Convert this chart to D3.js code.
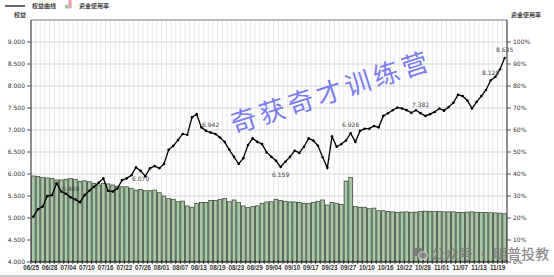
<!DOCTYPE html>
<html>
<head>
<meta charset="utf-8">
<script src="https://cdn.jsdelivr.net/npm/d3@7"></script>
<style>
  html, body { margin: 0; background: #fff; overflow: hidden; }
  svg { display: block; font-family: "DejaVu Sans", Verdana, sans-serif; }
</style>
</head>
<body>
<div id="chart"></div>
<script>
// Label sumbu x (tiap 4 bar)
const tickDates = ["06/25", "06/28", "07/04", "07/10", "07/16", "07/22", "07/26",
  "08/01", "08/07", "08/13", "08/19", "08/23", "08/29", "09/04", "09/10", "09/17",
  "09/23", "09/27", "10/10", "10/16", "10/22", "10/28", "11/01", "11/07", "11/13", "11/19"];

// 权益曲线
const equity = [
  5.03, 5.20, 5.26, 5.50, 5.52, 5.79, 5.60, 5.55, 5.469, 5.42,
  5.36, 5.52, 5.62, 5.71, 5.80, 5.90, 5.62, 5.60, 5.67, 5.86,
  5.90, 5.97, 6.15, 6.070, 5.95, 6.13, 6.18, 6.13, 6.23, 6.55,
  6.64, 6.77, 6.91, 6.89, 7.29, 7.36, 7.06, 6.98, 6.942, 6.91,
  6.83, 6.73, 6.55, 6.39, 6.23, 6.36, 6.66, 6.81, 6.73, 6.68,
  6.49, 6.39, 6.30, 6.159, 6.28, 6.39, 6.53, 6.48, 6.62, 6.81,
  6.76, 6.64, 6.38, 6.14, 6.85, 6.62, 6.68, 6.76, 6.926, 6.73,
  6.98, 7.03, 7.03, 7.09, 7.06, 7.32, 7.38, 7.45, 7.51, 7.49,
  7.45, 7.39, 7.45, 7.382, 7.32, 7.36, 7.41, 7.49, 7.44, 7.52,
  7.62, 7.80, 7.77, 7.67, 7.49, 7.64, 7.77, 7.91, 8.125, 8.21,
  8.38, 8.635
];

// 资金使用率 (%)
const usage = [
  39.1, 38.8, 38.5, 38.2, 37.9, 37.3, 37.3, 37.6, 37.9, 37.6,
  36.7, 36.9, 36.5, 35.8, 35.0, 35.8, 35.5, 35.0, 34.5, 34.2,
  34.2, 33.5, 32.7, 33.0, 32.4, 32.4, 32.7, 31.5, 30.0, 28.9,
  28.5, 27.4, 27.7, 25.5, 24.9, 26.7, 27.1, 27.1, 27.9, 27.9,
  28.5, 28.9, 27.4, 28.2, 27.0, 25.5, 24.7, 25.2, 25.5, 26.7,
  27.3, 27.4, 28.5, 27.9, 27.6, 27.3, 27.3, 27.1, 26.7, 26.7,
  27.1, 27.6, 28.2, 25.9, 27.1, 26.7, 26.2, 36.8, 38.5, 25.2,
  24.9, 24.9, 24.2, 24.5, 23.3, 23.3, 23.0, 22.8, 22.6, 22.7,
  22.8, 22.6, 22.7, 22.9, 23.1, 22.9, 22.9, 22.9, 22.8, 22.8,
  22.8, 22.6, 22.6, 22.7, 22.8, 22.6, 22.5, 22.5, 22.4, 22.3,
  22.2, 21.9
];

// Titik yang diberi label nilai
const noteIndex = [8, 23, 38, 53, 68, 83, 98, 101];
const notePos = ["above", "below", "above", "below", "above", "above", "above", "above"];

const leftTicks = [4, 4.5, 5, 5.5, 6, 6.5, 7, 7.5, 8, 8.5, 9];
const rightTicks = [0, 0.1, 0.2, 0.3, 0.4, 0.5, 0.6, 0.7, 0.8, 0.9, 1];

const width = 554;
const height = 277;
const margin = { top: 20, right: 47, bottom: 15, left: 31 };
const innerWidth = width - margin.left - margin.right;
const innerHeight = height - margin.top - margin.bottom;

const svg = d3.select("#chart").append("svg")
  .attr("width", width)
  .attr("height", height);

const chart = svg.append("g")
  .attr("transform", `translate(${margin.left}, ${margin.top})`);

// Scales
const idx = d3.range(equity.length);
const x = d3.scaleBand().domain(idx).range([0, innerWidth]).paddingInner(0.2).paddingOuter(0.1);
const step = x.step();
const yL = d3.scaleLinear().domain([4, 9.5]).range([innerHeight, 0]);
const yR = d3.scaleLinear().domain([0, 1.1]).range([innerHeight, 0]);

// Grid
chart.append("g").selectAll("line")
  .data(d3.range(equity.length + 1))
  .enter().append("line")
  .attr("x1", (d) => d * step).attr("x2", (d) => d * step)
  .attr("y1", 0).attr("y2", innerHeight)
  .attr("stroke", "#dcdcdc").attr("stroke-width", 0.6);

chart.append("g").selectAll("line")
  .data(leftTicks)
  .enter().append("line")
  .attr("x1", 0).attr("x2", innerWidth)
  .attr("y1", (d) => yL(d)).attr("y2", (d) => yL(d))
  .attr("stroke", "#cfcfcf").attr("stroke-width", 0.8);

// Bars
chart.append("g").selectAll("rect")
  .data(usage)
  .enter().append("rect")
  .attr("x", (d, i) => x(i))
  .attr("y", (d) => yR(d / 100))
  .attr("width", x.bandwidth())
  .attr("height", (d) => innerHeight - yR(d / 100))
  .attr("fill", "#a7c8a2")
  .attr("stroke", "#2d3b2d")
  .attr("stroke-width", 0.7);

// Frame
chart.append("line").attr("x1", 0).attr("x2", innerWidth).attr("y1", 0).attr("y2", 0)
  .attr("stroke", "#777").attr("stroke-width", 1);
chart.append("line").attr("x1", 0).attr("x2", 0).attr("y1", 0).attr("y2", innerHeight)
  .attr("stroke", "#555").attr("stroke-width", 1.3);
chart.append("line").attr("x1", innerWidth).attr("x2", innerWidth).attr("y1", 0).attr("y2", innerHeight)
  .attr("stroke", "#555").attr("stroke-width", 1.3);
chart.append("line").attr("x1", 0).attr("x2", innerWidth).attr("y1", innerHeight).attr("y2", innerHeight)
  .attr("stroke", "#333").attr("stroke-width", 1.2);

// Axis kiri
const axL = chart.append("g");
axL.selectAll("line").data(leftTicks).enter().append("line")
  .attr("x1", -4).attr("x2", 0)
  .attr("y1", (d) => yL(d)).attr("y2", (d) => yL(d))
  .attr("stroke", "#555");
axL.selectAll("text").data(leftTicks).enter().append("text")
  .attr("x", -6).attr("y", (d) => yL(d) + 2)
  .attr("text-anchor", "end")
  .style("font-size", "6px").style("fill", "#333")
  .text((d) => d3.format(".3f")(d));

// Axis kanan
const axR = chart.append("g");
axR.selectAll("line").data(rightTicks).enter().append("line")
  .attr("x1", innerWidth).attr("x2", innerWidth + 4)
  .attr("y1", (d) => yR(d)).attr("y2", (d) => yR(d))
  .attr("stroke", "#555");
axR.selectAll("text").data(rightTicks).enter().append("text")
  .attr("x", innerWidth + 6).attr("y", (d) => yR(d) + 2)
  .style("font-size", "6px").style("fill", "#333")
  .text((d) => Math.round(d * 100) + "%");

// Axis bawah
chart.append("g").selectAll("line")
  .data(d3.range(equity.length + 1))
  .enter().append("line")
  .attr("x1", (d) => d * step).attr("x2", (d) => d * step)
  .attr("y1", innerHeight - 2).attr("y2", innerHeight + 2)
  .attr("stroke", "#222").attr("stroke-width", 0.8);

chart.append("g").selectAll("text")
  .data(tickDates)
  .enter().append("text")
  .attr("x", (d, i) => i * 4 * step)
  .attr("y", innerHeight + 7.5)
  .attr("text-anchor", "middle")
  .style("font-family", "Liberation Sans, Arial, sans-serif")
  .style("font-size", "6.3px").style("font-weight", "bold").style("fill", "#333")
  .text((d) => d);

// Garis 权益
const cx = (i) => x(i) + x.bandwidth() / 2;
chart.append("path")
  .datum(equity)
  .attr("fill", "none")
  .attr("stroke", "#000")
  .attr("stroke-width", 1.3)
  .attr("d", d3.line().x((d, i) => cx(i)).y((d) => yL(d)));

chart.append("g").selectAll("circle")
  .data(equity)
  .enter().append("circle")
  .attr("cx", (d, i) => cx(i))
  .attr("cy", (d) => yL(d))
  .attr("r", 1.3)
  .attr("fill", "#000");

// Label nilai
chart.append("g").selectAll("text")
  .data(noteIndex)
  .enter().append("text")
  .attr("x", (d) => cx(d))
  .attr("y", (d, k) => yL(equity[d]) + (notePos[k] === "above" ? -6 : 10))
  .attr("text-anchor", "middle")
  .style("font-size", "6px").style("fill", "#444")
  .text((d) => d3.format(".3f")(equity[d]));

// Judul sumbu
svg.append("text").attr("x", 26).attr("y", 17).attr("text-anchor", "end")
  .style("font-family", "Noto Sans CJK SC").style("font-size", "6px").style("font-weight", "bold").style("fill", "#444")
  .text("权益");
svg.append("text").attr("x", 511).attr("y", 17)
  .style("font-family", "Noto Sans CJK SC").style("font-size", "6px").style("font-weight", "bold").style("fill", "#444")
  .text("资金使用率");

// Legend
svg.append("line").attr("x1", 5).attr("x2", 25).attr("y1", 6).attr("y2", 6)
  .attr("stroke", "#333").attr("stroke-width", 1.5);
svg.append("text").attr("x", 32).attr("y", 8)
  .style("font-family", "Noto Sans CJK SC").style("font-size", "6px").style("font-weight", "bold").style("fill", "#444")
  .text("权益曲线");
svg.append("rect").attr("x", 65).attr("y", 5).attr("width", 3.3).attr("height", 3.5).attr("fill", "#9cc79a");
svg.append("rect").attr("x", 68.3).attr("y", 0).attr("width", 3.4).attr("height", 8.5).attr("fill", "#e6a7b0");
svg.append("text").attr("x", 79).attr("y", 8)
  .style("font-family", "Noto Sans CJK SC").style("font-size", "6px").style("font-weight", "bold").style("fill", "#444")
  .text("资金使用率");

// Watermark
svg.append("text")
  .attr("transform", "translate(334, 101) rotate(-18)")
  .attr("text-anchor", "middle")
  .style("font-family", "Noto Sans CJK SC").style("font-size", "26px").style("letter-spacing", "4px")
  .style("fill", "#6d70ef").style("opacity", 0.9)
  .text("奇获奇才训练营");

const wm = svg.append("g").style("opacity", 0.85);
wm.append("ellipse").attr("cx", 418).attr("cy", 252).attr("rx", 5.5).attr("ry", 4.5).attr("fill", "#777");
wm.append("ellipse").attr("cx", 423).attr("cy", 255.5).attr("rx", 4.5).attr("ry", 3.8).attr("fill", "#888").attr("stroke", "#fff").attr("stroke-width", 0.8);
wm.append("text").attr("x", 431).attr("y", 259)
  .style("font-family", "Noto Sans CJK SC").style("font-size", "14px").style("font-weight", "500").style("fill", "#7a7a7a")
  .text("公众号 · 明普投教");

// Garis bawah
svg.append("line").attr("x1", 0).attr("x2", width).attr("y1", 276).attr("y2", 276)
  .attr("stroke", "#999").attr("stroke-width", 1);
</script>
</body>
</html>
